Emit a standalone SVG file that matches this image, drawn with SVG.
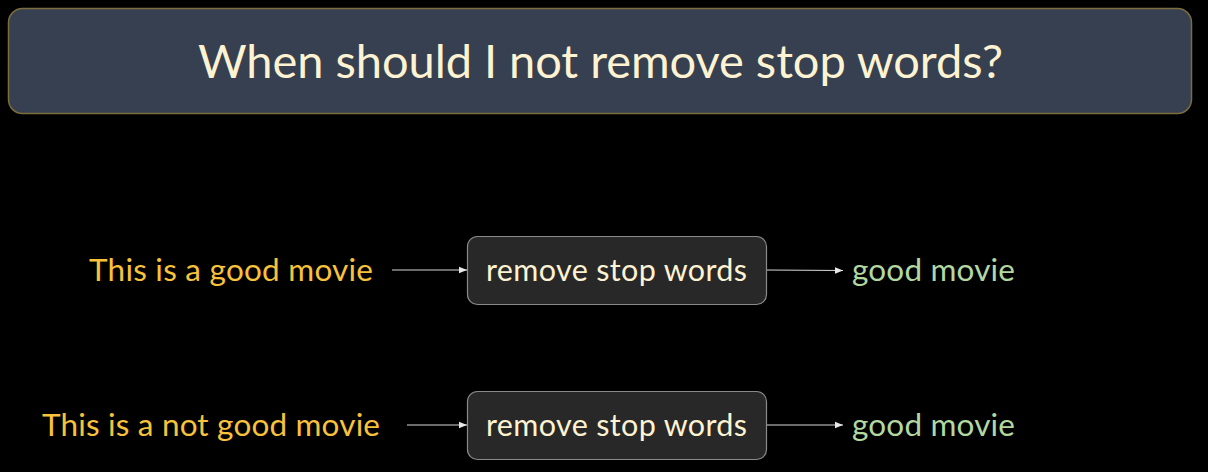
<svg xmlns="http://www.w3.org/2000/svg" width="1208" height="472" viewBox="0 0 1208 472">
<defs>
<marker id="ah" viewBox="0 0 10 10" refX="10" refY="5" markerWidth="8" markerHeight="8" markerUnits="userSpaceOnUse" orient="auto">
<path d="M0,1 L10,5 L0,9 z" fill="#e8e8e8"/>
</marker>
<style>
text{font-family:Lato,"Open Sans","Liberation Sans",sans-serif;}
.title{font-size:47px;fill:#fdf3d2;}
.box{fill:#282828;stroke:#8a8a8a;stroke-width:1.2;}
.lbl{font-size:30.5px;fill:#fdf3d2;}
.in{font-size:31.5px;fill:#f8c23a;}
.out{font-size:31.5px;fill:#b2d8a0;}
.conn{stroke:#d8d8d8;stroke-width:1.2;fill:none;marker-end:url(#ah);}
</style>
</defs>
<rect width="1208" height="472" fill="#000"/>
<g id="title">
<rect x="8.5" y="8.5" width="1183" height="105" rx="14" fill="#364050" stroke="#7d6c3c" stroke-width="1.5"/>
<text class="title" x="198" y="78" textLength="805" lengthAdjust="spacing">When should I not remove stop words?</text>
</g>
<g id="input1"><text class="in" x="89" y="281" textLength="284" lengthAdjust="spacing">This is a good movie</text></g>
<g id="input2"><text class="in" x="42" y="436" textLength="338" lengthAdjust="spacing">This is a not good movie</text></g>
<g id="node1">
<rect class="box" x="467.5" y="236.5" width="299" height="68" rx="10"/>
<text class="lbl" x="486" y="281" textLength="261" lengthAdjust="spacing">remove stop words</text>
</g>
<g id="node2">
<rect class="box" x="467.5" y="391.5" width="299" height="68" rx="10"/>
<text class="lbl" x="486" y="436" textLength="261" lengthAdjust="spacing">remove stop words</text>
</g>
<g id="output1"><text class="out" x="852" y="281" textLength="163" lengthAdjust="spacing">good movie</text></g>
<g id="output2"><text class="out" x="852" y="436" textLength="163" lengthAdjust="spacing">good movie</text></g>
<g id="connectors">
<line class="conn" x1="392" y1="270" x2="467" y2="270"/>
<line class="conn" x1="767" y1="270" x2="843" y2="270.5"/>
<line class="conn" x1="407" y1="425" x2="467" y2="425"/>
<line class="conn" x1="767" y1="425" x2="843" y2="425"/>
</g>
</svg>
